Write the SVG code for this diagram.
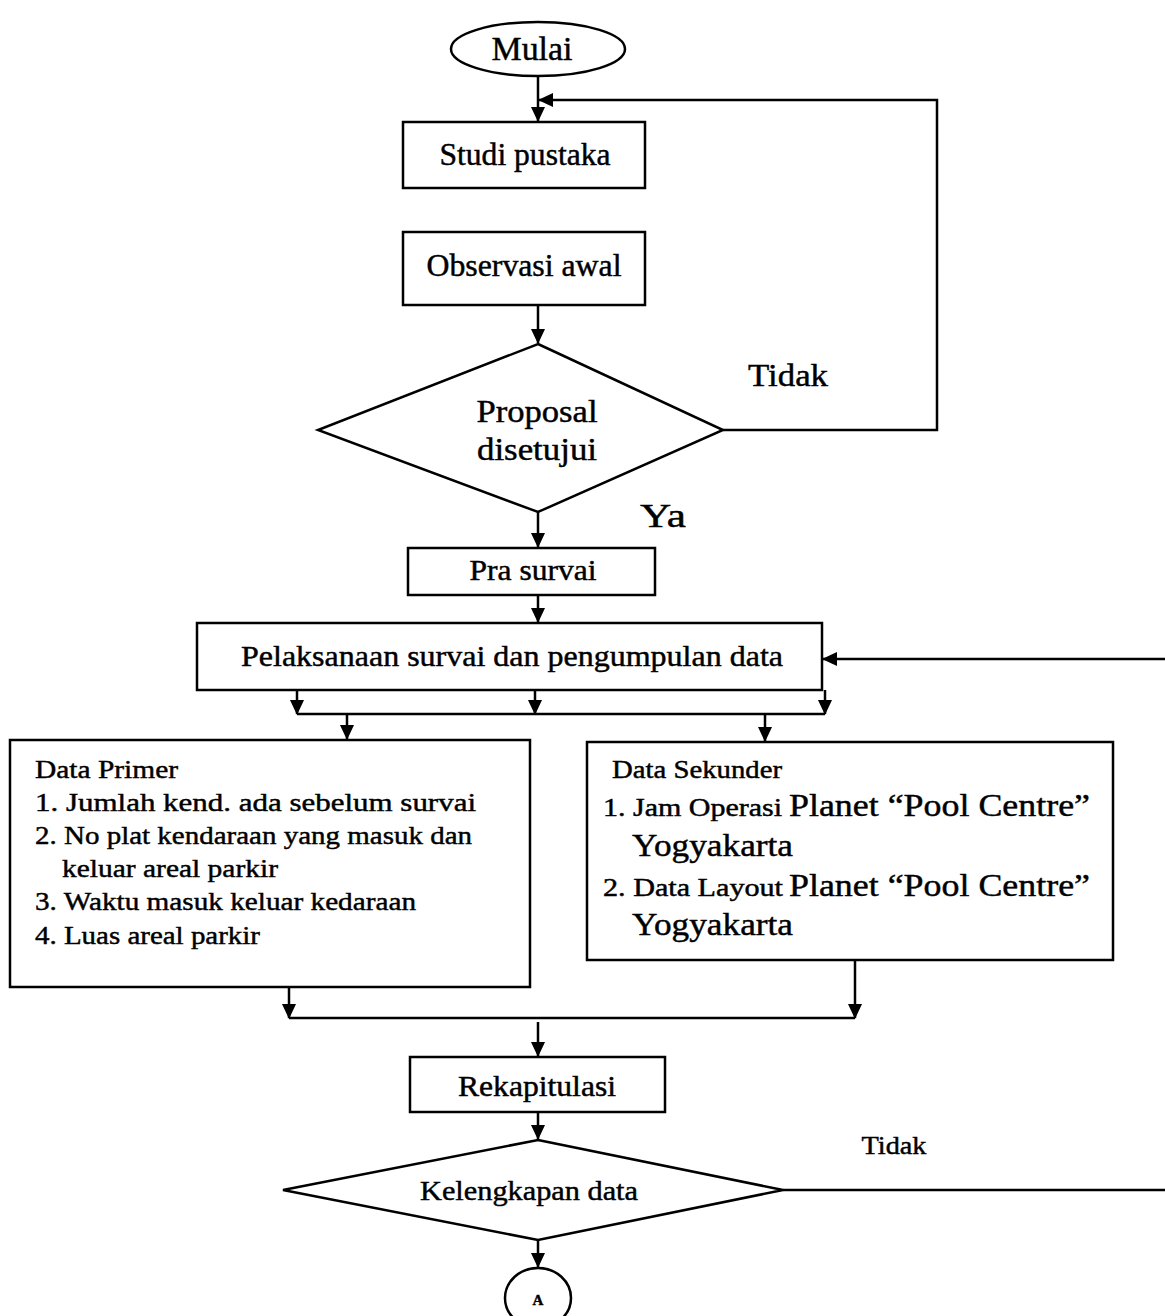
<svg xmlns="http://www.w3.org/2000/svg" width="1165" height="1316" viewBox="0 0 1165 1316" font-family="'Liberation Serif', 'Times New Roman', serif">
<defs>
<marker id="ah" markerWidth="15" markerHeight="14" refX="14" refY="7" orient="auto" markerUnits="userSpaceOnUse">
<path d="M0,0 L15,7 L0,14 Z" fill="#000"/>
</marker>
<style>
.s{fill:#fff;stroke:#000;stroke-width:2.5}
.c{fill:none;stroke:#000;stroke-width:2.5}
.a{fill:none;stroke:#000;stroke-width:2.5;marker-end:url(#ah)}
text{fill:#000;stroke:#000;stroke-width:0.45}
.m{text-anchor:middle}
</style>
</defs>
<rect width="1165" height="1316" fill="#fff"/>
<g id="connectors">
<path class="a" d="M538,77 V121"/>
<path class="a" d="M723,430 H937 V100 H539"/>
<path class="a" d="M538,305 V343"/>
<path class="a" d="M538,512 V547"/>
<path class="a" d="M538,595 V622"/>
<path class="a" d="M1165,659 H823"/>
<path class="a" d="M297,690 V714"/>
<path class="a" d="M535,690 V714"/>
<path class="a" d="M825,690 V714"/>
<path class="c" d="M297,714 H825"/>
<path class="a" d="M347,714 V739"/>
<path class="a" d="M765,714 V741"/>
<path class="a" d="M289,987 V1018"/>
<path class="a" d="M855,960 V1018"/>
<path class="c" d="M289,1018 H855"/>
<path class="a" d="M538,1022 V1056"/>
<path class="a" d="M538,1112 V1139"/>
<path class="c" d="M783,1190 H1165"/>
<path class="a" d="M538,1240 V1267"/>
<text x="788" y="386" class="m" font-size="31" textLength="80" lengthAdjust="spacingAndGlyphs">Tidak</text>
<text x="663" y="527" class="m" font-size="33" textLength="46" lengthAdjust="spacingAndGlyphs">Ya</text>
<text x="894" y="1154" class="m" font-size="26" textLength="65" lengthAdjust="spacingAndGlyphs">Tidak</text>
</g>
<g id="mulai">
<ellipse class="s" cx="538" cy="49" rx="87" ry="27"/>
<text x="532" y="60" class="m" font-size="33" textLength="81" lengthAdjust="spacingAndGlyphs">Mulai</text>
</g>
<g id="studi">
<rect class="s" x="403" y="122" width="242" height="66"/>
<text x="525" y="165" class="m" font-size="31" textLength="171" lengthAdjust="spacingAndGlyphs">Studi pustaka</text>
</g>
<g id="observasi">
<rect class="s" x="403" y="232" width="242" height="73"/>
<text x="524" y="276" class="m" font-size="31" textLength="195" lengthAdjust="spacingAndGlyphs">Observasi awal</text>
</g>
<g id="proposal">
<polygon class="s" points="538,344 723,430 538,512 318,430"/>
<text x="537" y="422" class="m" font-size="32" textLength="121" lengthAdjust="spacingAndGlyphs">Proposal</text>
<text x="537" y="460" class="m" font-size="32" textLength="120" lengthAdjust="spacingAndGlyphs">disetujui</text>
</g>
<g id="prasurvai">
<rect class="s" x="408" y="548" width="247" height="47"/>
<text x="533" y="580" class="m" font-size="29" textLength="127" lengthAdjust="spacingAndGlyphs">Pra survai</text>
</g>
<g id="pelaksanaan">
<rect class="s" x="197" y="623" width="625" height="67"/>
<text x="512" y="666" class="m" font-size="30" textLength="542" lengthAdjust="spacingAndGlyphs">Pelaksanaan survai dan pengumpulan data</text>
</g>
<g id="dataprimer">
<rect class="s" x="10" y="740" width="520" height="247"/>
<text x="35" y="778" font-size="26" textLength="143" lengthAdjust="spacingAndGlyphs">Data Primer</text>
<text x="35" y="811" font-size="26" textLength="441" lengthAdjust="spacingAndGlyphs">1. Jumlah kend. ada sebelum survai</text>
<text x="35" y="844" font-size="26" textLength="437" lengthAdjust="spacingAndGlyphs">2. No plat kendaraan yang masuk dan</text>
<text x="62" y="877" font-size="26" textLength="216" lengthAdjust="spacingAndGlyphs">keluar areal parkir</text>
<text x="35" y="910" font-size="26" textLength="381" lengthAdjust="spacingAndGlyphs">3. Waktu masuk keluar kedaraan</text>
<text x="35" y="944" font-size="26" textLength="225" lengthAdjust="spacingAndGlyphs">4. Luas areal parkir</text>
</g>
<g id="datasekunder">
<rect class="s" x="587" y="742" width="526" height="218"/>
<text x="612" y="778" font-size="25" textLength="170" lengthAdjust="spacingAndGlyphs">Data Sekunder</text>
<text x="603" y="816" font-size="25" textLength="179" lengthAdjust="spacingAndGlyphs">1. Jam Operasi</text>
<text x="789" y="816" font-size="32" textLength="301" lengthAdjust="spacingAndGlyphs">Planet “Pool Centre”</text>
<text x="632" y="856" font-size="32" textLength="161" lengthAdjust="spacingAndGlyphs">Yogyakarta</text>
<text x="603" y="896" font-size="25" textLength="180" lengthAdjust="spacingAndGlyphs">2. Data Layout</text>
<text x="789" y="896" font-size="32" textLength="301" lengthAdjust="spacingAndGlyphs">Planet “Pool Centre”</text>
<text x="632" y="935" font-size="32" textLength="161" lengthAdjust="spacingAndGlyphs">Yogyakarta</text>
</g>
<g id="rekapitulasi">
<rect class="s" x="410" y="1057" width="255" height="55"/>
<text x="537" y="1096" class="m" font-size="29" textLength="158" lengthAdjust="spacingAndGlyphs">Rekapitulasi</text>
</g>
<g id="kelengkapan">
<polygon class="s" points="538,1140 783,1190 538,1240 283,1190"/>
<text x="529" y="1200" class="m" font-size="28" textLength="218" lengthAdjust="spacingAndGlyphs">Kelengkapan data</text>
</g>
<g id="a">
<ellipse class="s" cx="538" cy="1298" rx="33" ry="30"/>
<text x="538" y="1305" class="m" font-size="15" font-weight="bold">A</text>
</g>
</svg>
